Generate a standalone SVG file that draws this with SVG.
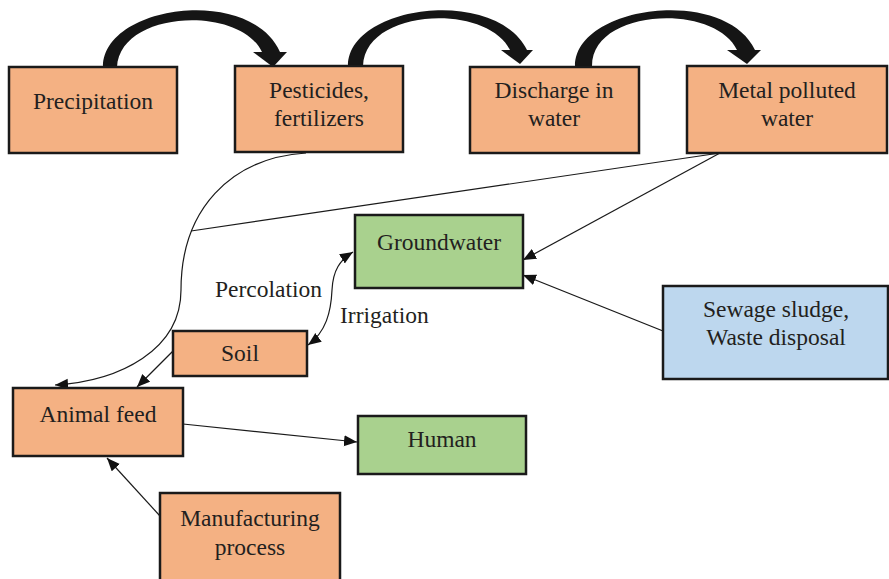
<svg xmlns="http://www.w3.org/2000/svg" width="889" height="579" viewBox="0 0 889 579">
<defs>
<style>
.box{stroke:#1a1a1a;stroke-width:2.5}
.o{fill:#f4b183}
.g{fill:#a9d18e}
.b{fill:#bdd7ee}
text{font-family:"Liberation Serif","Times New Roman",serif;font-size:23.5px;fill:#231f20;text-anchor:middle}
.lbl{text-anchor:start}
.ln{fill:none;stroke:#1a1a1a;stroke-width:1.2}
.big{fill:#151515}
</style>
<marker id="ah" markerUnits="userSpaceOnUse" markerWidth="14" markerHeight="12" refX="13" refY="5.5" orient="auto-start-reverse" viewBox="0 0 14 12">
<path d="M0,0 L13,5.5 L0,11 z" fill="#111"/>
</marker>
</defs>
<rect width="889" height="579" fill="#fff"/>
<g id="connectors">
<path class="big" d="M103,67 C103,5 250,-15 280,52 L262,52 C240,5 120,10 117,67 Z"/>
<polygon class="big" points="253,52 287,52 273,67"/>
<path class="big" d="M348,66 C348,5 495,-14 527,50 L510,50 C487,3 365,8 363,66 Z"/>
<polygon class="big" points="501,50 533,50 520,64"/>
<path class="big" d="M575,66 C575,5 725,-14 755,50 L737,50 C715,3 592,8 592,66 Z"/>
<polygon class="big" points="727,50 761,50 747,64"/>
<path class="ln" d="M306,153 C230,158 181,210 181,290 C181,350 120,381 55,385" marker-end="url(#ah)"/>
<path class="ln" d="M720,153 L191,231"/>
<path class="ln" d="M720,153 L523,260" marker-end="url(#ah)"/>
<path class="ln" d="M663,331 L523,275" marker-end="url(#ah)"/>
<path class="ln" d="M308,345 C326,332 331,312 332,290 C333,270 340,260 353,252" marker-start="url(#ah)" marker-end="url(#ah)"/>
<path class="ln" d="M173,351 L137,387" marker-end="url(#ah)"/>
<path class="ln" d="M183,424 L357,442" marker-end="url(#ah)"/>
<path class="ln" d="M160,516 L107,458" marker-end="url(#ah)"/>
</g>
<g id="precipitation"><rect class="box o" x="9" y="67" width="168" height="86"/><text x="93" y="109">Precipitation</text></g>
<g id="pesticides"><rect class="box o" x="235" y="66" width="168" height="86"/><text x="319" y="98">Pesticides,</text><text x="319" y="126">fertilizers</text></g>
<g id="discharge"><rect class="box o" x="470" y="67" width="169" height="86"/><text x="554" y="98">Discharge in</text><text x="554" y="126">water</text></g>
<g id="metal"><rect class="box o" x="687" y="66" width="200" height="87"/><text x="787" y="98">Metal polluted</text><text x="787" y="126">water</text></g>
<g id="groundwater"><rect class="box g" x="355" y="215" width="168" height="73"/><text x="439" y="250">Groundwater</text></g>
<g id="sewage"><rect class="box b" x="663" y="286" width="225" height="93"/><text x="776" y="317">Sewage sludge,</text><text x="776" y="345">Waste disposal</text></g>
<g id="soil"><rect class="box o" x="173" y="331" width="134" height="45"/><text x="240" y="361">Soil</text></g>
<g id="animalfeed"><rect class="box o" x="13" y="388" width="170" height="68"/><text x="98" y="422">Animal feed</text></g>
<g id="human"><rect class="box g" x="358" y="416" width="168" height="58"/><text x="442" y="447">Human</text></g>
<g id="manufacturing"><rect class="box o" x="160" y="493" width="180" height="90"/><text x="250" y="526">Manufacturing</text><text x="250" y="555">process</text></g>
<text class="lbl" x="215" y="297">Percolation</text>
<text class="lbl" x="340" y="323">Irrigation</text>
</svg>
